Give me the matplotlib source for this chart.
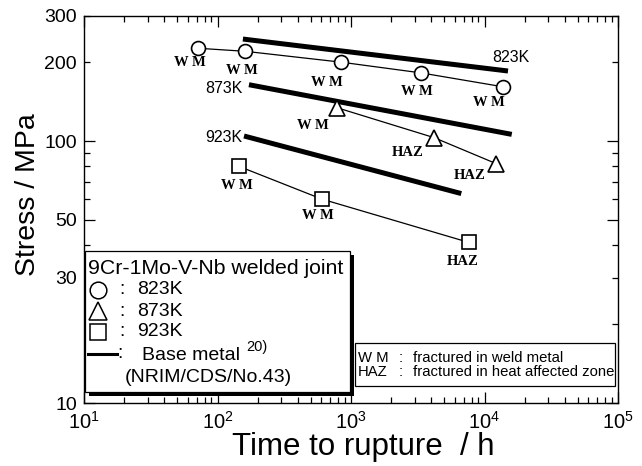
import matplotlib
matplotlib.use('Agg')
import matplotlib.pyplot as plt
from matplotlib.patches import Rectangle
from matplotlib.lines import Line2D
from matplotlib.ticker import FixedLocator, FixedFormatter

plt.rcParams['font.family'] = ['Liberation Sans', 'DejaVu Sans']
plt.rcParams['mathtext.default'] = 'regular'

# ---------------- data ----------------
t_823 = [71, 161, 840, 3340, 13800]
s_823 = [226, 220, 200, 182, 161]
f_823 = ["W M", "W M", "W M", "W M", "W M"]

t_873 = [785, 4190, 12200]
s_873 = [134, 103, 82]
f_873 = ["W M", "HAZ", "HAZ"]

t_923 = [145, 606, 7650]
s_923 = [80, 60, 41]
f_923 = ["W M", "W M", "HAZ"]

base_t_823 = [155, 15000]
base_s_823 = [245, 185]
base_t_873 = [172, 16000]
base_s_873 = [164, 106]
base_t_923 = [158, 6700]
base_s_923 = [104.5, 63]

temps = ["823K", "873K", "923K"]
y_major = [10, 50, 100]
y_major_labels = ["10", "50", "100"]
y_minor = [20, 30, 40, 60, 70, 80, 90, 200, 300]
y_minor_labels = ["", "30", "", "", "", "", "", "200", "300"]

# ---------------- figure ----------------
W, H = 642, 466
fig = plt.figure(figsize=(W / 100, H / 100), dpi=100)
L, R, T, B = 84, 618, 16, 403
ax = fig.add_axes([L / W, 1 - B / H, (R - L) / W, (B - T) / H])
ax.set_xscale('log')
ax.set_yscale('log')
ax.set_xlim(10, 1e5)
ax.set_ylim(10, 300)

for sp in ax.spines.values():
    sp.set_linewidth(1.0)

ax.yaxis.set_major_locator(FixedLocator(y_major))
ax.yaxis.set_major_formatter(FixedFormatter(y_major_labels))
ax.yaxis.set_minor_locator(FixedLocator(y_minor))
ax.yaxis.set_minor_formatter(FixedFormatter(y_minor_labels))

ax.tick_params(which='both', direction='in', top=True, right=True, width=0.9)
ax.tick_params(which='major', length=8)
ax.tick_params(which='minor', length=4.5)
ax.tick_params(axis='x', which='major', labelsize=14.5, pad=6)
ax.tick_params(axis='y', which='both', labelsize=14, pad=5)

# base metal lines
ax.plot(base_t_823, base_s_823, '-', color='k', lw=3.6, solid_capstyle='butt', zorder=3)
ax.plot(base_t_873, base_s_873, '-', color='k', lw=3.6, solid_capstyle='butt', zorder=3)
ax.plot(base_t_923, base_s_923, '-', color='k', lw=3.6, solid_capstyle='butt', zorder=3)

# welded joint data
ax.plot(t_823, s_823, '-', color='k', lw=0.9, marker='o', ms=10, mfc='white', mec='k', mew=1.2, zorder=4)
ax.plot(t_873, s_873, '-', color='k', lw=0.9, marker='^', ms=11, mfc='white', mec='k', mew=1.2, zorder=4)
ax.plot(t_923, s_923, '-', color='k', lw=0.9, marker='s', ms=9.5, mfc='white', mec='k', mew=1.2, zorder=4)

px = 0.72  # points per pixel
serif = dict(family='Liberation Serif', fontsize=10.5, fontweight='bold', ha='center', va='center')
off_823 = [(-8, 14), (-3, 19), (-14, 20), (-4, 19), (-14, 16)]
off_873 = [(-24, 18), (-26, 15), (-26, 12)]
off_923 = [(-2, 19), (-4, 16), (-6, 19)]
for ts, ss, fs, offs in [(t_823, s_823, f_823, off_823),
                         (t_873, s_873, f_873, off_873),
                         (t_923, s_923, f_923, off_923)]:
    for t, s, f, (dx, dy) in zip(ts, ss, fs, offs):
        ax.annotate(f, (t, s), xytext=(dx * px, -dy * px), textcoords='offset points', **serif)

# temperature labels on base metal lines
ax.annotate(temps[0], (base_t_823[1], base_s_823[1]), xytext=(3 * px, 14 * px),
            textcoords='offset points', ha='center', va='center', fontsize=11.5)
ax.annotate(temps[1], (base_t_873[0], base_s_873[0]), xytext=(-6 * px, -4 * px),
            textcoords='offset points', ha='right', va='center', fontsize=11.5)
ax.annotate(temps[2], (base_t_923[0], base_s_923[0]), xytext=(-2 * px, -2 * px),
            textcoords='offset points', ha='right', va='center', fontsize=11.5)

# axis labels
fig.text(28 / W, 1 - 195 / H, "Stress / MPa", rotation=90, ha='center', va='center', fontsize=20.5)
fig.text(363 / W, 1 - 447 / H, "Time to rupture  / h", ha='center', va='center', fontsize=22.5)


def P(x, y):
    return (x / W, 1 - y / H)


def rect(x0, y0, x1, y1, **kw):
    r = Rectangle(P(x0, y1), (x1 - x0) / W, (y1 - y0) / H, transform=fig.transFigure, **kw)
    fig.add_artist(r)


# legend box 1 with shadow
rect(89, 255, 354, 396, facecolor='k', edgecolor='none', zorder=5)
rect(85, 251, 350, 392, facecolor='white', edgecolor='k', lw=0.9, zorder=6)
fs = 14
fig.text(*P(88, 269), "9Cr-1Mo-V-Nb welded joint", ha='left', va='center', fontsize=15.3, zorder=7)
for yy, mk, ms, lab in [(290, 'o', 12, temps[0]), (311, '^', 12.5, temps[1]), (332, 's', 11, temps[2])]:
    fig.add_artist(Line2D([98 / W], [1 - yy / H], transform=fig.transFigure, marker=mk, ms=ms,
                          mfc='white', mec='k', mew=1.1, zorder=7))
    fig.text(*P(119, yy), ":", ha='left', va='center', fontsize=fs, zorder=7)
    fig.text(*P(137, yy), lab, ha='left', va='center', fontsize=fs, zorder=7)
fig.add_artist(Line2D([88 / W, 117 / W], [1 - 354 / H, 1 - 354 / H], transform=fig.transFigure,
                      color='k', lw=2.2, zorder=7))
fig.text(*P(117, 354), ":", ha='left', va='center', fontsize=fs, zorder=7)
fig.text(*P(142, 355), "Base metal", ha='left', va='center', fontsize=fs, zorder=7)
fig.text(*P(246, 347), "20)", ha='left', va='center', fontsize=10.5, zorder=7)
fig.text(*P(125, 378), "(NRIM/CDS/No.43)", ha='left', va='center', fontsize=fs, zorder=7)

# legend box 2
rect(355, 343, 615, 386, facecolor='white', edgecolor='k', lw=0.9, zorder=6)
fs2 = 10.7
for yy, a, b in [(358, "W M", "fractured in weld metal"), (372, "HAZ", "fractured in heat affected zone")]:
    fig.text(*P(358, yy), a, ha='left', va='center', fontsize=fs2, zorder=7)
    fig.text(*P(399, yy), ":", ha='left', va='center', fontsize=fs2, zorder=7)
    fig.text(*P(413, yy), b, ha='left', va='center', fontsize=fs2, zorder=7)

fig.savefig('out.png', dpi=100)
